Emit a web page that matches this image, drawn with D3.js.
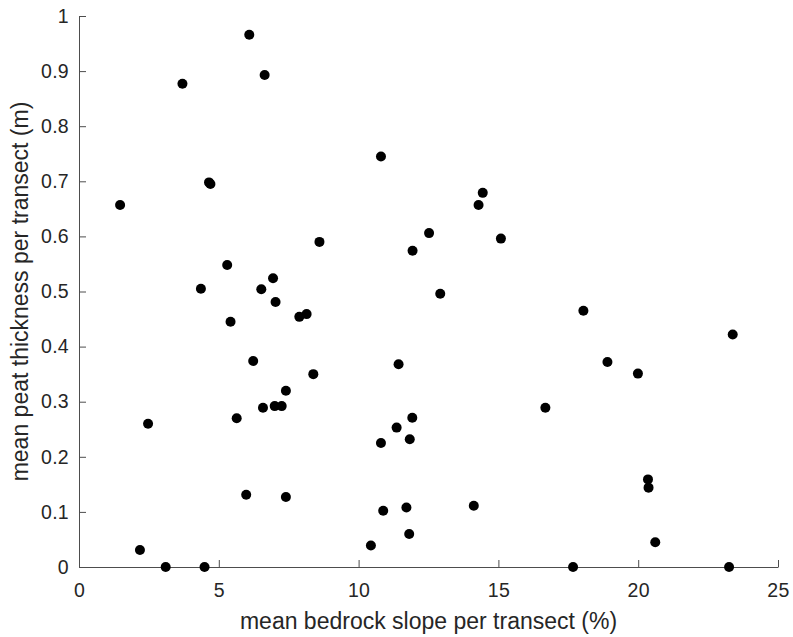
<!DOCTYPE html>
<html>
<head>
<meta charset="utf-8">
<script src="https://cdn.jsdelivr.net/npm/d3@7"></script>
<style>
html,body{margin:0;padding:0;background:#fff;}
svg{display:block;}
text{font-family:"Liberation Sans",Arial,Helvetica,sans-serif;fill:#262626;}
</style>
</head>
<body>
<svg id="chart" width="793" height="637"></svg>
<script>
const slope = [6.09,6.64,3.70,10.80,4.65,4.70,1.47,8.60,5.30,6.94,4.36,6.52,7.03,7.88,8.14,5.42,
  14.44,14.29,12.52,11.93,15.09,12.92,18.04,6.23,8.38,7.40,6.58,7.00,7.25,5.64,2.47,5.98,7.40,2.18,3.10,4.49,
  11.43,11.36,10.80,10.88,10.44,23.38,18.90,19.99,16.68,11.92,11.83,20.35,20.37,14.12,11.71,11.81,20.61,17.67,23.25];
const peat = [0.966,0.893,0.877,0.745,0.698,0.695,0.657,0.590,0.548,0.524,0.505,0.504,0.481,0.454,0.459,0.445,
  0.679,0.657,0.606,0.574,0.596,0.496,0.465,0.374,0.350,0.320,0.289,0.292,0.292,0.270,0.260,0.131,0.127,0.031,0,0,
  0.368,0.253,0.225,0.102,0.039,0.422,0.372,0.351,0.289,0.271,0.232,0.159,0.144,0.111,0.108,0.060,0.045,0,0];
const xTicks = [0,5,10,15,20,25];
const yTicks = [0,0.1,0.2,0.3,0.4,0.5,0.6,0.7,0.8,0.9,1];
const xLabel = "mean bedrock slope per transect (%)";
const yLabel = "mean peat thickness per transect (m)";

const svg = d3.select("#chart");
const mLeft = 79, mRight = 778, mTop = 16, mBottom = 567;
const x = d3.scaleLinear().domain([0,25]).range([mLeft,mRight]);
const y = d3.scaleLinear().domain([0,1]).range([mBottom,mTop]);
const axisColor = "#4d4d4d";

const gx = svg.append("g").attr("transform",`translate(0,${mBottom})`)
  .call(d3.axisBottom(x).tickValues(xTicks).tickFormat(d3.format("d")).tickSizeInner(-7).tickSizeOuter(0).tickPadding(17));
const gy = svg.append("g").attr("transform",`translate(${mLeft},0)`)
  .call(d3.axisLeft(y).tickValues(yTicks).tickFormat(d=>d===0||d===1?String(d):d3.format(".1f")(d)).tickSizeInner(-7).tickSizeOuter(0).tickPadding(17));
[gx,gy].forEach(g=>{
  g.select(".domain").attr("stroke",axisColor).attr("stroke-width",1);
  g.selectAll(".tick line").attr("stroke",axisColor);
  g.selectAll(".tick text").attr("font-size",19.5).attr("fill","#262626")
    .attr("letter-spacing","0.3px")
    .attr("font-family",'"Liberation Sans",Arial,sans-serif');
});
gy.selectAll(".tick text").attr("x",-10);
gx.selectAll(".tick text").attr("y",16);

svg.append("g").selectAll("circle").data(slope.map((s,i)=>[s,peat[i]])).join("circle")
  .attr("cx",d=>x(d[0])).attr("cy",d=>y(d[1])).attr("r",5).attr("fill","#000");

svg.append("text").attr("x",(mLeft+mRight)/2).attr("y",629).attr("text-anchor","middle")
  .attr("font-size",23).text(xLabel);
svg.append("text").attr("transform",`translate(28,${(mTop+mBottom)/2}) rotate(-90)`)
  .attr("text-anchor","middle").attr("font-size",23).text(yLabel);
</script>
</body>
</html>
